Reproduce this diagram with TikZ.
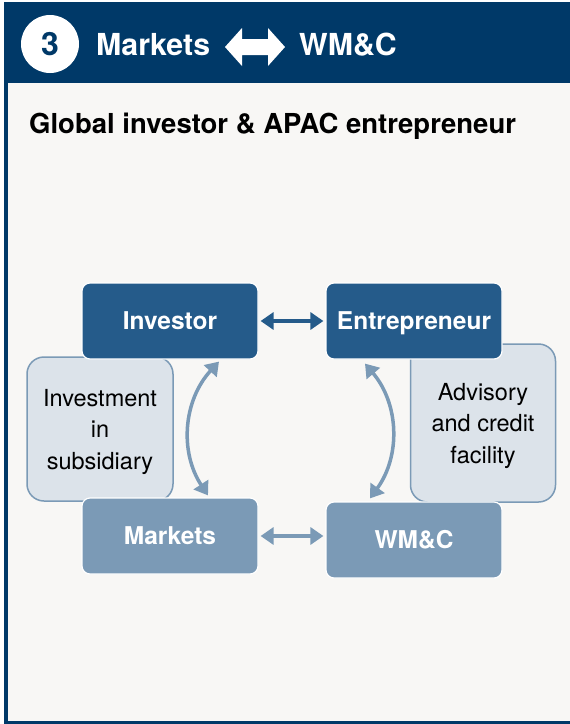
\documentclass[tikz,border=0pt]{standalone}
\usepackage{fontspec}
\setmainfont{TeX Gyre Heros}
\usetikzlibrary{arrows.meta}
\definecolor{navy}{RGB}{0,57,104}
\definecolor{boxdark}{RGB}{37,91,138}
\definecolor{boxlight}{RGB}{123,154,182}
\definecolor{sidefill}{RGB}{220,227,234}
\definecolor{paper}{RGB}{248,247,245}
\tikzset{
  party/.style={rectangle, rounded corners=8pt, draw=white, line width=1.2pt,
    minimum width=176pt, minimum height=76pt, inner sep=0pt, text=white,
    text height=17pt, text depth=0pt,
    font=\fontsize{24.5}{29}\selectfont\bfseries},
  deal/.style={rectangle, rounded corners=17pt, draw=boxlight, fill=sidefill,
    line width=1.5pt, inner sep=0pt, align=center, text depth=-2pt,
    font=\fontsize{23.5}{31.5}\selectfont},
  link/.style={{Triangle[length=13pt,width=17pt]}-{Triangle[length=13pt,width=17pt]},
    line width=4pt},
  headtext/.style={anchor=base west, inner sep=0pt, text=white,
    font=\fontsize{30.3}{36}\selectfont\bfseries}
}
\begin{document}
\begin{tikzpicture}[x=1pt,y=-1pt]
  \useasboundingbox (0,0) rectangle (570,724);
  % frame and header band
  \fill[navy] (4,2) rectangle (570,724);
  \fill[paper] (8,83) rectangle (570,721);
  \node[circle, fill=white, minimum size=58pt, inner sep=0pt, text=navy,
    font=\fontsize{32}{38}\selectfont\bfseries] (num) at (50,44) {3};
  \node[headtext] (left) at (96,55) {Markets};
  \fill[white] (225,47) -- (242,28) -- (242,39) -- (268,39) -- (268,28) -- (285,47)
    -- (268,66) -- (268,55) -- (242,55) -- (242,66) -- cycle;
  \node[headtext] (right) at (299,55) {WM\&C};
  \node[anchor=base west, inner sep=0pt, font=\fontsize{27.5}{32}\selectfont\bfseries]
    (title) at (29,133) {Global investor \& APAC entrepreneur};

  % what each pair exchanges
  \node[deal, minimum width=146pt, minimum height=144pt] (subs) at (100,429)
    {Investment\\in\\subsidiary};
  \node[deal, minimum width=145pt, minimum height=158pt] (adv) at (483,423)
    {Advisory\\and credit\\facility};

  % the four parties
  \node[party, fill=boxdark] (inv) at (170,321) {Investor};
  \node[party, fill=boxdark] (ent) at (414,321) {Entrepreneur};
  \node[party, fill=boxlight] (mkt) at (170,536) {Markets};
  \node[party, fill=boxlight] (wmc) at (414,540) {WM\&C};

  \draw[link, boxdark, shorten <=2pt, shorten >=2pt] (inv) -- (ent);
  \draw[link, boxlight, shorten <=2pt, shorten >=2pt] (mkt.east) -- (mkt.east -| wmc.west);
  \draw[link, boxlight, line width=3.5pt] ([xshift=49pt,yshift=-2pt]inv.south)
    to[bend right=38] ([xshift=38pt,yshift=2pt]mkt.north);
  \draw[link, boxlight, line width=3.5pt] ([xshift=-49pt,yshift=-4pt]ent.south)
    to[bend left=38] ([xshift=-44pt,yshift=3pt]wmc.north);
\end{tikzpicture}
\end{document}
